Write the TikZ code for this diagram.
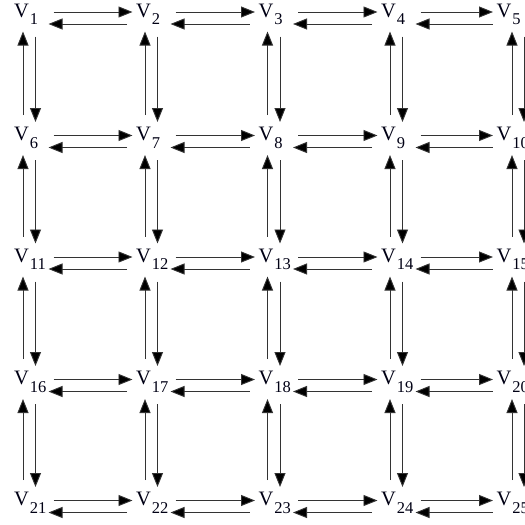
\documentclass[tikz,border=0pt]{standalone}
\usepackage{fontspec}
\setmainfont{Liberation Serif}
\usetikzlibrary{arrows.meta,calc}
\newcommand{\vlab}[1]{{\fontsize{20.5}{21}\selectfont V}\rlap{\smash{\raisebox{-7.5pt}{\hspace{1pt}\fontsize{16.5}{17}\selectfont #1}}}}
\begin{document}
\begin{tikzpicture}[x=1pt,y=-1pt,
  vnode/.style={inner sep=0pt,outer sep=0pt,text=black!92!blue},
  arr/.style={line width=0.9pt,draw=black!80,-{Triangle[length=14pt,width=11pt,fill=black]}}]
\useasboundingbox (0,0) rectangle (525,525);
\def\colx{{21.5,143.5,266,388.5,504}}
\def\rowy{{10.5,134,255.5,378,499}}
% nodes
\foreach \r in {0,...,4}{
  \foreach \c in {0,...,4}{
    \pgfmathsetmacro{\px}{\colx[\c]}
    \pgfmathsetmacro{\py}{\rowy[\r]}
    \pgfmathtruncatemacro{\n}{\r*5+\c+1}
    \node[vnode] (v\n) at (\px,\py) {\vlab{\n}};
  }
}
% horizontal arrows
\foreach \r in {0,...,4}{
  \foreach \c in {1,...,4}{
    \pgfmathtruncatemacro{\a}{\r*5+\c}
    \pgfmathtruncatemacro{\b}{\a+1}
    \pgfmathsetmacro{\ls}{\c==4 ? -11.5 : -16.5}
    \draw[arr] ($(v\a)+(32,1.5)$) -- ($(v\b)+(-11,1.5)$);
    \draw[arr] ($(v\b)+(\ls,13.5)$) -- ($(v\a)+(27,13.5)$);
  }
}
% vertical arrows
\foreach \r in {1,...,4}{
  \foreach \c in {1,...,5}{
    \pgfmathtruncatemacro{\a}{(\r-1)*5+\c}
    \pgfmathtruncatemacro{\b}{\a+5}
    \pgfmathsetmacro{\ux}{\c==5 ? 8 : 1.5}
    \pgfmathsetmacro{\dx}{\c==5 ? 20 : 14}
    \draw[arr] ($(v\b)+(\ux,-19)$) -- ($(v\a)+(\ux,21)$);
    \draw[arr] ($(v\a)+(\dx,26)$) -- ($(v\b)+(\dx,-12)$);
  }
}
\end{tikzpicture}
\end{document}
